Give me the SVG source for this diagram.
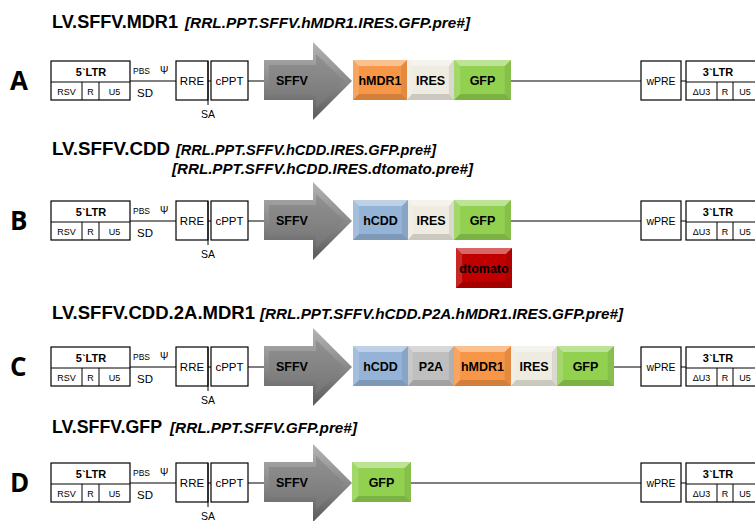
<svg xmlns="http://www.w3.org/2000/svg" xmlns:xlink="http://www.w3.org/1999/xlink" width="755" height="521" viewBox="0 0 755 521">
<style>
text{font-family:"Liberation Sans",Arial,sans-serif;fill:#000}
.title{font-size:18px;font-weight:bold}
.sub{font-size:14px;font-weight:bold;font-style:italic}
.row{font-family:"Open Sans","Liberation Sans",sans-serif;font-size:26px;font-weight:bold}
.box{fill:#fff;stroke:#000;stroke-width:1.2}
.ln{stroke:#000;stroke-width:1;fill:none}
.sm{font-size:9px;text-anchor:middle}
.hd{font-size:11px;font-weight:bold;text-anchor:middle}
.md{font-size:11.5px;text-anchor:middle}
.cs{font-size:12.5px;font-weight:bold;text-anchor:middle}
.mdr{fill:#F79646}
.ires{fill:#EEECE1}
.gfp{fill:#92D050}
.cdd{fill:#95B3D7}
.p2a{fill:#BFBFBF}
.tom{fill:#C00000}
</style>
<defs>
<symbol id="bevel" viewBox="0 0 100 100" preserveAspectRatio="none">
<polygon points="0,0 100,0 89,15 11,15" fill="#fff" fill-opacity="0.4"/>
<polygon points="0,100 100,100 89,85 11,85" fill="#000" fill-opacity="0.15"/>
<polygon points="0,0 11,15 11,85 0,100" fill="#fff" fill-opacity="0.15"/>
<polygon points="100,0 89,15 89,85 100,100" fill="#000" fill-opacity="0.08"/>
</symbol>
<linearGradient id="arrowG" x1="0" y1="0" x2="0" y2="1">
<stop offset="0" stop-color="#b4b4b4"/>
<stop offset="0.5" stop-color="#8a8a8a"/>
<stop offset="1" stop-color="#5a5a5a"/>
</linearGradient>
<g id="ltr5">
<rect class="box" x="51" y="0" width="79" height="39"/>
<path class="ln" d="M51 21H130M82 21V39M99 21V39"/>
<text class="hd" x="91" y="15">5`LTR</text>
<text class="sm" x="66.5" y="34">RSV</text>
<text class="sm" x="90.5" y="34">R</text>
<text class="sm" x="114.5" y="34">U5</text>
</g>
<g id="psi">
<text x="133" y="13" style="font-size:8.5px">PBS</text>
<text x="160" y="13" style="font-size:10px">Ψ</text>
<text class="md" x="145" y="36">SD</text>
</g>
<g id="rre">
<rect class="box" x="176" y="0" width="32" height="39"/>
<text class="md" x="192" y="24">RRE</text>
</g>
<g id="cppt">
<rect class="box" x="211" y="0" width="37" height="39"/>
<text class="md" x="229.5" y="24">cPPT</text>
</g>
<g id="sa">
<path class="ln" d="M208 0V44"/>
<text class="md" x="208" y="57" style="font-size:10.5px">SA</text>
</g>
<g id="sffv">
<polygon points="264,-1 313,-1 313,-19 352,20 313,59 313,39 264,39" fill="url(#arrowG)"/>
<polygon points="269,4 316,4 316,-7 344,20 316,47 316,34 269,34" fill="#7f7f7f" fill-opacity="0.55"/>
<text class="cs" x="292" y="24">SFFV</text>
</g>
<g id="wpre">
<rect class="box" x="641" y="0" width="40" height="39"/>
<text class="md" x="661" y="24" style="font-size:10.5px">wPRE</text>
</g>
<g id="ltr3">
<rect class="box" x="686" y="0" width="80" height="39"/>
<path class="ln" d="M686 21H766M717 21V39M733 21V39"/>
<text class="hd" x="718" y="15">3`LTR</text>
<text class="sm" x="701.5" y="34">ΔU3</text>
<text class="sm" x="725" y="34">R</text>
<text class="sm" x="745" y="34">U5</text>
</g>
</defs>

<g id="titles">
<text class="title" x="52" y="28" textLength="126" lengthAdjust="spacingAndGlyphs">LV.SFFV.MDR1</text>
<text class="sub" x="185" y="28" textLength="285" lengthAdjust="spacingAndGlyphs">[RRL.PPT.SFFV.hMDR1.IRES.GFP.pre#]</text>
<text class="title" x="52" y="155" textLength="118" lengthAdjust="spacingAndGlyphs">LV.SFFV.CDD</text>
<text class="sub" x="176" y="155" textLength="260" lengthAdjust="spacingAndGlyphs">[RRL.PPT.SFFV.hCDD.IRES.GFP.pre#]</text>
<text class="sub" x="172" y="174" textLength="301" lengthAdjust="spacingAndGlyphs">[RRL.PPT.SFFV.hCDD.IRES.dtomato.pre#]</text>
<text class="title" x="52" y="319" textLength="203" lengthAdjust="spacingAndGlyphs">LV.SFFV.CDD.2A.MDR1</text>
<text class="sub" x="260" y="319" textLength="363" lengthAdjust="spacingAndGlyphs">[RRL.PPT.SFFV.hCDD.P2A.hMDR1.IRES.GFP.pre#]</text>
<text class="title" x="52" y="433" textLength="110" lengthAdjust="spacingAndGlyphs">LV.SFFV.GFP</text>
<text class="sub" x="170" y="433" textLength="187" lengthAdjust="spacingAndGlyphs">[RRL.PPT.SFFV.GFP.pre#]</text>
</g>

<!-- Row A -->
<g id="rowA" transform="translate(0,61)">
<g id="A-connectors">
<path class="ln" d="M130 20H176M208 20H211M248 20H264M511 20H641M681 20H686"/>
</g>
<text class="row" x="10" y="29">A</text>
<g id="A-ltr5"><use xlink:href="#ltr5"/></g>
<g id="A-psi"><use xlink:href="#psi"/></g>
<g id="A-rre"><use xlink:href="#rre"/></g>
<g id="A-cppt"><use xlink:href="#cppt"/></g>
<g id="A-sa"><use xlink:href="#sa"/></g>
<g id="A-sffv"><use xlink:href="#sffv"/></g>
<g id="A-hmdr1"><rect class="mdr" x="353" y="-1" width="54" height="40"/><use xlink:href="#bevel" x="353" y="-1" width="54" height="40"/><text class="cs" x="380" y="24">hMDR1</text></g>
<g id="A-ires"><rect class="ires" x="407" y="-1" width="47" height="40"/><use xlink:href="#bevel" x="407" y="-1" width="47" height="40"/><text class="cs" x="430.5" y="24">IRES</text></g>
<g id="A-gfp"><rect class="gfp" x="454" y="-1" width="57" height="40"/><use xlink:href="#bevel" x="454" y="-1" width="57" height="40"/><text class="cs" x="482.5" y="24">GFP</text></g>
<g id="A-wpre"><use xlink:href="#wpre"/></g>
<g id="A-ltr3"><use xlink:href="#ltr3"/></g>
</g>

<!-- Row B -->
<g id="rowB" transform="translate(0,201)">
<g id="B-connectors">
<path class="ln" d="M130 20H176M208 20H211M248 20H264M511 20H641M681 20H686"/>
</g>
<text class="row" x="10" y="29">B</text>
<g id="B-ltr5"><use xlink:href="#ltr5"/></g>
<g id="B-psi"><use xlink:href="#psi"/></g>
<g id="B-rre"><use xlink:href="#rre"/></g>
<g id="B-cppt"><use xlink:href="#cppt"/></g>
<g id="B-sa"><use xlink:href="#sa"/></g>
<g id="B-sffv"><use xlink:href="#sffv"/></g>
<g id="B-hcdd"><rect class="cdd" x="353" y="-1" width="55" height="40"/><use xlink:href="#bevel" x="353" y="-1" width="55" height="40"/><text class="cs" x="380.5" y="24">hCDD</text></g>
<g id="B-ires"><rect class="ires" x="408" y="-1" width="46" height="40"/><use xlink:href="#bevel" x="408" y="-1" width="46" height="40"/><text class="cs" x="431" y="24">IRES</text></g>
<g id="B-gfp"><rect class="gfp" x="454" y="-1" width="57" height="40"/><use xlink:href="#bevel" x="454" y="-1" width="57" height="40"/><text class="cs" x="482.5" y="24">GFP</text></g>
<g id="B-dtomato"><rect class="tom" x="456" y="47" width="56" height="40"/><use xlink:href="#bevel" x="456" y="47" width="56" height="40"/><text class="cs" x="484" y="72">dtomato</text></g>
<g id="B-wpre"><use xlink:href="#wpre"/></g>
<g id="B-ltr3"><use xlink:href="#ltr3"/></g>
</g>

<!-- Row C -->
<g id="rowC" transform="translate(0,347)">
<g id="C-connectors">
<path class="ln" d="M130 20H176M208 20H211M248 20H264M614 20H641M681 20H686"/>
</g>
<text class="row" x="10" y="29">C</text>
<g id="C-ltr5"><use xlink:href="#ltr5"/></g>
<g id="C-psi"><use xlink:href="#psi"/></g>
<g id="C-rre"><use xlink:href="#rre"/></g>
<g id="C-cppt"><use xlink:href="#cppt"/></g>
<g id="C-sa"><use xlink:href="#sa"/></g>
<g id="C-sffv"><use xlink:href="#sffv"/></g>
<g id="C-hcdd"><rect class="cdd" x="353" y="-1" width="55" height="40"/><use xlink:href="#bevel" x="353" y="-1" width="55" height="40"/><text class="cs" x="380.5" y="24">hCDD</text></g>
<g id="C-p2a"><rect class="p2a" x="408" y="-1" width="46" height="40"/><use xlink:href="#bevel" x="408" y="-1" width="46" height="40"/><text class="cs" x="431" y="24">P2A</text></g>
<g id="C-hmdr1"><rect class="mdr" x="454" y="-1" width="57" height="40"/><use xlink:href="#bevel" x="454" y="-1" width="57" height="40"/><text class="cs" x="482.5" y="24">hMDR1</text></g>
<g id="C-ires"><rect class="ires" x="511" y="-1" width="46" height="40"/><use xlink:href="#bevel" x="511" y="-1" width="46" height="40"/><text class="cs" x="534" y="24">IRES</text></g>
<g id="C-gfp"><rect class="gfp" x="557" y="-1" width="57" height="40"/><use xlink:href="#bevel" x="557" y="-1" width="57" height="40"/><text class="cs" x="585.5" y="24">GFP</text></g>
<g id="C-wpre"><use xlink:href="#wpre"/></g>
<g id="C-ltr3"><use xlink:href="#ltr3"/></g>
</g>

<!-- Row D -->
<g id="rowD" transform="translate(0,463)">
<g id="D-connectors">
<path class="ln" d="M130 20H176M208 20H211M248 20H264M411 20H641M681 20H686"/>
</g>
<text class="row" x="10" y="29">D</text>
<g id="D-ltr5"><use xlink:href="#ltr5"/></g>
<g id="D-psi"><use xlink:href="#psi"/></g>
<g id="D-rre"><use xlink:href="#rre"/></g>
<g id="D-cppt"><use xlink:href="#cppt"/></g>
<g id="D-sa"><use xlink:href="#sa"/></g>
<g id="D-sffv"><use xlink:href="#sffv"/></g>
<g id="D-gfp"><rect class="gfp" x="352" y="-1" width="59" height="40"/><use xlink:href="#bevel" x="352" y="-1" width="59" height="40"/><text class="cs" x="381.5" y="24">GFP</text></g>
<g id="D-wpre"><use xlink:href="#wpre"/></g>
<g id="D-ltr3"><use xlink:href="#ltr3"/></g>
</g>
</svg>
